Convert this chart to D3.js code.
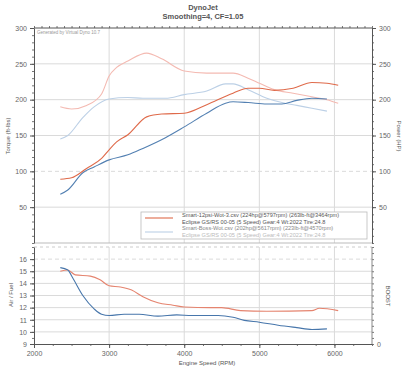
<!DOCTYPE html>
<html>
<head>
<meta charset="utf-8">
<script src="https://cdn.jsdelivr.net/npm/d3@7"></script>
<style>
  body { margin: 0; background: #fff; }
  text { font-family: "Liberation Sans", Arial, sans-serif; fill: #555; }
</style>
</head>
<body>
<div id="chart"></div>
<script>
// run 1 : Smart-12psi (red)
var rpmRed = [2350, 2500, 2700, 2900, 3000, 3100, 3250, 3500, 3700, 4000, 4300, 4650, 4850, 5000, 5200, 5450, 5700, 5900, 6050];
var torqueRed = [190, 187, 192, 208, 233, 245, 254, 265, 257, 240, 237, 237, 230, 223, 214, 209, 204, 200, 195];
var powerRed = [89, 91, 104, 118, 130, 141, 151, 176, 180, 181, 193, 209, 216, 216, 213, 216, 224, 223, 220];

// run 2 : Smart-Boss (blue)
var rpmBlue = [2350, 2450, 2650, 2800, 3000, 3250, 3450, 3750, 4000, 4300, 4550, 4650, 4850, 5100, 5300, 5500, 5700, 5900];
var torqueBlue = [145, 150, 175, 190, 201, 203, 202, 202, 207, 212, 222, 222, 214, 202, 196, 192, 188, 184];
var powerBlue = [68, 74, 98, 106, 116, 123, 132, 147, 162, 181, 195, 197, 196, 194, 194, 199, 202, 201];

// air / fuel
var afrRpmRed = [2350, 2450, 2550, 2750, 2880, 3000, 3150, 3300, 3450, 3650, 3850, 4000, 4350, 4500, 4750, 5100, 5700, 5800, 6050];
var afrRed = [15.0, 15.1, 14.7, 14.6, 14.3, 13.8, 13.7, 13.45, 12.9, 12.4, 12.2, 12.05, 12.0, 12.0, 11.75, 11.7, 11.75, 11.95, 11.75];
var afrRpmBlue = [2350, 2450, 2520, 2650, 2800, 2900, 3000, 3200, 3400, 3650, 3900, 4100, 4450, 4650, 4800, 5000, 5250, 5500, 5700, 5900];
var afrBlue = [15.3, 15.1, 14.4, 13.0, 11.9, 11.45, 11.35, 11.45, 11.45, 11.3, 11.4, 11.35, 11.35, 11.2, 10.95, 10.8, 10.55, 10.35, 10.2, 10.25];

var rpmTicks = [2000, 3000, 4000, 5000, 6000];
var topTicks = [50, 100, 150, 200, 250, 300];
var afrTicks = [9, 10, 11, 12, 13, 14, 15, 16];

var legendLines = [
  "Smart-12psi-Wot-3.csv (224hp@5797rpm) (263lb-ft@3464rpm)",
  "Eclipse GS/RS 00-05 (5 Speed) Gear:4 Wt:2022 Tire:24.8",
  "Smart-Boss-Wot.csv (202hp@5617rpm) (223lb-ft@4570rpm)",
  "Eclipse GS/RS 00-05 (5 Speed) Gear:4 Wt:2022 Tire:24.8"
];

var width = 405, height = 372,
    left = 34, right = 372;

var svg = d3.select('#chart').append('svg')
    .attr('width', width)
    .attr('height', height)
    .style('background', '#fff');

var x = d3.scaleLinear().domain([2000, 6500]).range([left, right]);
var yTop = d3.scaleLinear().domain([0, 300]).range([243, 28]);
var yBot = d3.scaleLinear().domain([9, 17]).range([344, 247]);

// titles
svg.append('text').attr('x', 203).attr('y', 10).attr('text-anchor', 'middle')
    .style('font-size', '7.5px').style('font-weight', 'bold').style('fill', '#555').text('DynoJet');
svg.append('text').attr('x', 203).attr('y', 19).attr('text-anchor', 'middle')
    .style('font-size', '7.5px').style('font-weight', 'bold').style('fill', '#555').text('Smoothing=4, CF=1.05');

// grid top
var gTop = svg.append('g');
gTop.selectAll('.hg').data([50, 100, 150, 200, 250]).enter().append('line')
    .attr('x1', left).attr('x2', right)
    .attr('y1', function(d) { return yTop(d); }).attr('y2', function(d) { return yTop(d); })
    .style('stroke', '#dadada').style('stroke-width', 1)
    .style('stroke-dasharray', function(d) { return d == 100 ? '4,3' : null; });
gTop.selectAll('.vg').data([3000, 4000, 5000, 6000]).enter().append('line')
    .attr('x1', function(d) { return x(d); }).attr('x2', function(d) { return x(d); })
    .attr('y1', 28).attr('y2', 243)
    .style('stroke', '#dadada').style('stroke-width', 1);
gTop.append('line').attr('x1', left).attr('x2', right).attr('y1', 243).attr('y2', 243)
    .style('stroke', '#bbb');

// grid bottom
var gBot = svg.append('g');
gBot.selectAll('.hg').data([10, 11, 12, 13, 14, 15, 16]).enter().append('line')
    .attr('x1', left).attr('x2', right)
    .attr('y1', function(d) { return yBot(d); }).attr('y2', function(d) { return yBot(d); })
    .style('stroke', '#dadada').style('stroke-width', 1)
    .style('stroke-dasharray', function(d) { return d == 16 ? '4,3' : null; });
gBot.selectAll('.vg').data([3000, 4000, 5000, 6000]).enter().append('line')
    .attr('x1', function(d) { return x(d); }).attr('x2', function(d) { return x(d); })
    .attr('y1', 247).attr('y2', 344)
    .style('stroke', '#dadada').style('stroke-width', 1);
gBot.append('line').attr('x1', left).attr('x2', right).attr('y1', 247).attr('y2', 247)
    .style('stroke', '#ccc').style('stroke-dasharray', '3,3');

// axes
function styleAxis(g) {
  g.select('.domain').style('stroke', '#555');
  g.selectAll('.tick line').style('stroke', '#555');
  g.selectAll('.tick text').style('font-size', '7px').style('fill', '#666')
      .style('font-family', '"Liberation Sans", Arial, sans-serif');
}
function minor(g) {
  g.selectAll('.tick text').remove();
  g.select('.domain').remove();
  g.selectAll('.tick line').style('stroke', '#777');
}

svg.append('g').attr('transform', 'translate(' + left + ',0)')
    .call(d3.axisLeft(yTop).tickValues(d3.range(0, 301, 10)).tickSize(2)).call(minor);
svg.append('g').attr('transform', 'translate(' + left + ',0)')
    .call(d3.axisLeft(yTop).tickValues(topTicks).tickSize(4).tickPadding(3).tickSizeOuter(0)).call(styleAxis);
svg.append('g').attr('transform', 'translate(' + right + ',0)')
    .call(d3.axisRight(yTop).tickValues(d3.range(0, 301, 10)).tickSize(2)).call(minor);
svg.append('g').attr('transform', 'translate(' + right + ',0)')
    .call(d3.axisRight(yTop).tickValues(topTicks).tickSize(4).tickPadding(3).tickSizeOuter(0)).call(styleAxis);
svg.append('g').attr('transform', 'translate(0,28)')
    .call(d3.axisTop(x).tickValues(d3.range(2000, 6501, 100)).tickSize(2)).call(minor);
svg.append('line').attr('x1', left).attr('x2', right).attr('y1', 28).attr('y2', 28).style('stroke', '#555');

svg.append('g').attr('transform', 'translate(' + left + ',0)')
    .call(d3.axisLeft(yBot).tickValues(d3.range(9, 17.01, 0.5)).tickSize(2)).call(minor);
svg.append('g').attr('transform', 'translate(' + left + ',0)')
    .call(d3.axisLeft(yBot).tickValues(afrTicks).tickSize(4).tickPadding(3).tickSizeOuter(0)).call(styleAxis);
svg.append('g').attr('transform', 'translate(' + right + ',0)')
    .call(d3.axisRight(yBot).tickValues(d3.range(9, 17.01, 0.5)).tickSize(2)).call(minor);
svg.append('line').attr('x1', right).attr('x2', right).attr('y1', 247).attr('y2', 344).style('stroke', '#888');
svg.append('g').attr('transform', 'translate(0,344)')
    .call(d3.axisBottom(x).tickValues(d3.range(2000, 6501, 250)).tickSize(2)).call(minor);
svg.append('g').attr('transform', 'translate(0,344)')
    .call(d3.axisBottom(x).tickValues(rpmTicks).tickFormat(d3.format('d')).tickSize(4).tickPadding(3).tickSizeOuter(0)).call(styleAxis);
svg.append('text').attr('x', 377).attr('y', 347).style('font-size', '7px').style('fill', '#666').text('0');

// axis titles
svg.append('text').attr('transform', 'translate(10,136) rotate(-90)').attr('text-anchor', 'middle')
    .style('font-size', '6px').text('Torque (ft-lbs)');
svg.append('text').attr('transform', 'translate(397,136) rotate(90)').attr('text-anchor', 'middle')
    .style('font-size', '6px').text('Power (HP)');
svg.append('text').attr('transform', 'translate(13,295) rotate(-90)').attr('text-anchor', 'middle')
    .style('font-size', '6px').text('Air / Fuel');
svg.append('text').attr('transform', 'translate(386,296) rotate(90)').attr('text-anchor', 'middle')
    .style('font-size', '6px').text('BOOST');
svg.append('text').attr('x', 207).attr('y', 365).attr('text-anchor', 'middle')
    .style('font-size', '6px').text('Engine Speed (RPM)');
svg.append('text').attr('x', 37).attr('y', 34).style('font-size', '4.5px').style('fill', '#999')
    .text('Generated by Virtual Dyno 10.7');

// curves
function drawLine(rpms, vals, yScale, color, w) {
  var line = d3.line()
      .x(function(d, i) { return x(rpms[i]); })
      .y(function(d) { return yScale(d); })
      .curve(d3.curveMonotoneX);
  svg.append('path').datum(vals)
      .attr('d', line)
      .style('fill', 'none')
      .style('stroke', color)
      .style('stroke-width', w);
}

drawLine(rpmRed, torqueRed, yTop, '#f4baB2', 1.1);
drawLine(rpmBlue, torqueBlue, yTop, '#bcd0e6', 1.1);
drawLine(rpmBlue, powerBlue, yTop, '#5380b2', 1.1);
drawLine(rpmRed, powerRed, yTop, '#df6a4a', 1.1);

drawLine(afrRpmRed, afrRed, yBot, '#e5846f', 1.1);
drawLine(afrRpmBlue, afrBlue, yBot, '#4776ab', 1.1);

// legend
var lg = svg.append('g');
lg.append('rect').attr('x', 141).attr('y', 212).attr('width', 226).attr('height', 27)
    .style('fill', '#fff').style('stroke', '#bbb').style('stroke-width', 0.8);
lg.append('line').attr('x1', 145).attr('x2', 173).attr('y1', 218).attr('y2', 218)
    .style('stroke', '#df6a4a').style('stroke-width', 1.1);
lg.append('line').attr('x1', 145).attr('x2', 173).attr('y1', 232).attr('y2', 232)
    .style('stroke', '#bcd0e6').style('stroke-width', 1.1);
lg.selectAll('.lt').data(legendLines).enter().append('text')
    .attr('x', 182)
    .attr('y', function(d, i) { return 217 + i * 6.6; })
    .style('font-size', '5.6px')
    .style('fill', function(d, i) { return ['#555', '#555', '#888', '#bbb'][i]; })
    .text(function(d) { return d; });
</script>
</body>
</html>
